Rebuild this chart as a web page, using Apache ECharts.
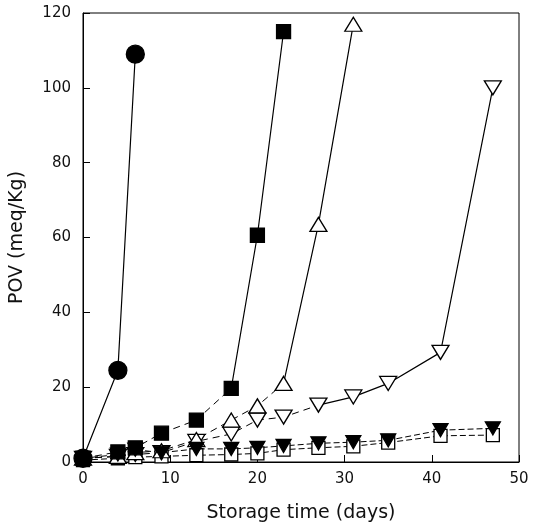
<!DOCTYPE html>
<html>
<head>
<meta charset="utf-8">
<script src="https://cdn.jsdelivr.net/npm/echarts@6/dist/echarts.min.js"></script>
<style>
  html, body { margin: 0; padding: 0; background: #fff; }
  #main { width: 535px; height: 531px; }
</style>
</head>
<body>
<div id="main"></div>
<script>
// sampling days
var days = [0, 4, 6, 9, 13, 17, 20, 23, 27, 31, 35, 41, 47];
var xTicks = [0, 10, 20, 30, 40, 50];
var yTicks = [0, 20, 40, 60, 80, 100, 120];

// POV values (meq/Kg)
var filledCircles = [1, 24.5, 109];
var filledSquares = [1, 2.7, 3.8, 7.7, 11.2, 19.7, 60.6, 115];
var openUp = [1, 1.5, 2.5, 3, 6, 11.2, 15, 21, 63.5, 117];
var openDown = [1, 1.5, 2, 2.5, 5.5, 7.5, 11.2, 12, 15.2, 17.4, 21, 29.3, 100];
var filledDown = [1, 2, 3.3, 2.5, 3.5, 3.5, 3.8, 4.3, 5, 5.3, 5.8, 8.5, 9];
var openSquares = [0.5, 1, 1.3, 1.5, 1.8, 2, 2.3, 3.3, 3.8, 4.2, 5.2, 7, 7.2];

document.addEventListener('DOMContentLoaded', function () {
    var chart = echarts.init(document.getElementById('main'));

    function pts(vals) {
        return vals.map(function (v, i) { return [days[i], v]; });
    }

    // marker series, dashed line; solidFrom = index where line becomes solid
    function makeSeries(vals, symbol, size, filled, rotate, solidFrom, dash) {
        var out = [];
        var data = pts(vals);
        out.push({
            type: 'line',
            data: solidFrom === 0 ? [] : data.slice(0, solidFrom + 1),
            symbol: 'none',
            z: 1,
            lineStyle: { color: '#000', width: 1, type: dash }
        });
        if (solidFrom < vals.length - 1) {
            out.push({
                type: 'line',
                data: data.slice(solidFrom),
                symbol: 'none',
                z: 1,
                lineStyle: { color: '#000', width: 1.2, type: 'solid' }
            });
        }
        out.push({
            type: 'scatter',
            data: data,
            symbol: symbol,
            symbolSize: size,
            symbolRotate: rotate,
            z: filled ? 4 : 3,
            itemStyle: {
                color: filled ? '#000' : '#fff',
                borderColor: '#000',
                borderWidth: 1.3,
                opacity: 1
            }
        });
        return out;
    }

    var series = [].concat(
        makeSeries(openSquares, 'rect', 13, false, 0, 99, [6, 3]),
        makeSeries(filledDown, 'triangle', [15, 13], true, 180, 99, [6, 3]),
        makeSeries(openDown, 'triangle', [17, 14], false, 180, 8, [7, 5]),
        makeSeries(openUp, 'triangle', [17, 14], false, 0, 7, [7, 5]),
        makeSeries(filledSquares, 'rect', 14, true, 0, 5, [7, 5]),
        makeSeries(filledCircles, 'circle', 18, true, 0, 0, 'solid')
    );

    var option = {
        animation: false,
        grid: {
            left: 83, right: 16, top: 13, bottom: 69,
            show: true, borderColor: '#000', borderWidth: 1
        },
        xAxis: {
            type: 'value',
            min: xTicks[0], max: xTicks[xTicks.length - 1], interval: 10,
            name: 'Storage time (days)',
            nameLocation: 'middle',
            nameGap: 42,
            nameTextStyle: { fontFamily: 'DejaVu Sans', fontSize: 19, color: '#111' },
            axisLine: { lineStyle: { color: '#000' } },
            axisTick: { inside: true, length: 7, lineStyle: { color: '#000' } },
            axisLabel: { fontFamily: 'DejaVu Sans', fontSize: 15, color: '#111', margin: 10 },
            splitLine: { show: false }
        },
        yAxis: {
            type: 'value',
            min: yTicks[0], max: yTicks[yTicks.length - 1], interval: 20,
            name: 'POV (meq/Kg)',
            nameLocation: 'middle',
            nameGap: 56,
            nameTextStyle: { fontFamily: 'DejaVu Sans', fontSize: 19, color: '#111' },
            axisLine: { lineStyle: { color: '#000' } },
            axisTick: { inside: true, length: 7, lineStyle: { color: '#000' } },
            axisLabel: { fontFamily: 'DejaVu Sans', fontSize: 15, color: '#111', margin: 12 },
            splitLine: { show: false }
        },
        series: series
    };

    chart.setOption(option);
});
</script>
</body>
</html>
